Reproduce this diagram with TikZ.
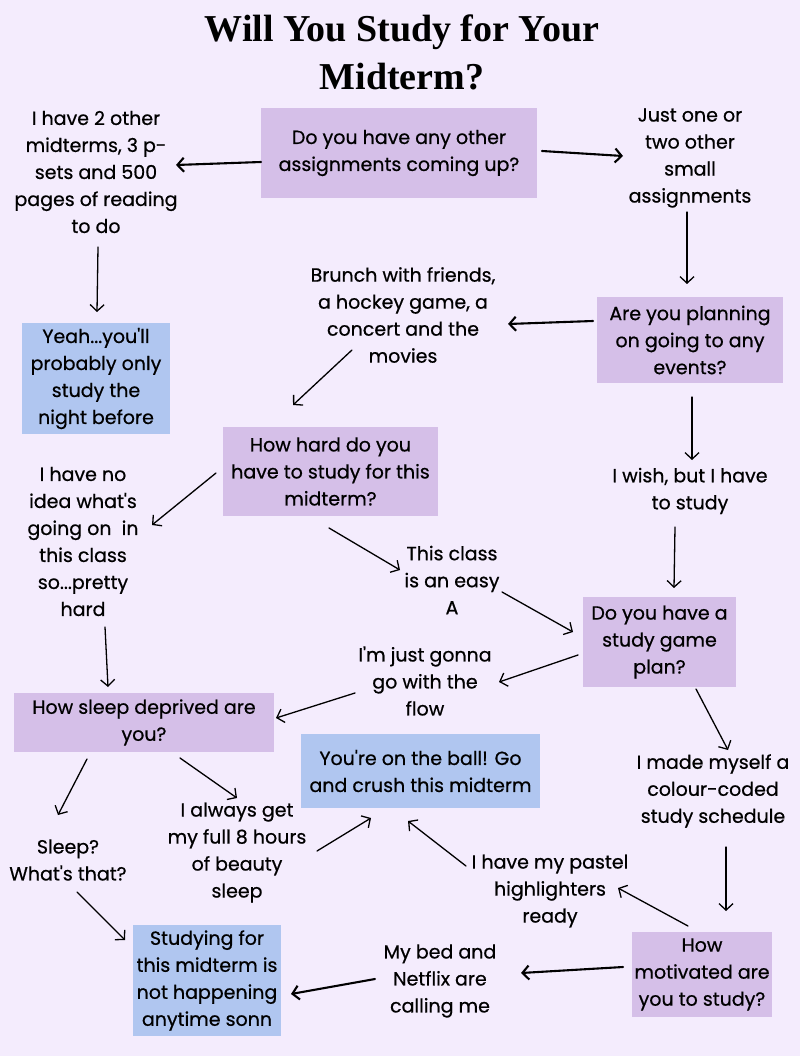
\documentclass[tikz,border=0pt]{standalone}
\usepackage{fontspec}
\setmainfont{Poppins}[Ligatures=TeXOff, FakeBold=0.6]
\newfontfamily\titlefont{Liberation Serif}
\usetikzlibrary{arrows.meta,calc}
\definecolor{bg}{RGB}{244,236,253}
\definecolor{qcol}{RGB}{213,191,232}
\definecolor{acol}{RGB}{176,198,240}
\tikzset{
  txt/.style={align=center, inner sep=0pt, text=black, font=\fontsize{19}{27}\selectfont},
  qbox/.style={txt, fill=qcol},
  abox/.style={txt, fill=acol},
  arr/.style={-{Straight Barb[length=6.5pt,width=14pt]}, line width=1.3pt, line cap=round},
  arrthick/.style={arr, line width=2.1pt},
}
\begin{document}
\begin{tikzpicture}[x=1pt,y=-1pt]
\fill[bg] (0,0) rectangle (800,1056);
\path[use as bounding box] (0,0) rectangle (800,1056);

\node[align=center, inner sep=0pt, font=\titlefont\bfseries\fontsize{38}{48}\selectfont] (title) at (402,52) {Will You Study for Your\\Midterm?};

% question boxes
\node[qbox, minimum width=276pt, minimum height=90pt] (q1) at (399,153) {Do you have any other\\assignments coming up?};
\node[qbox, minimum width=186pt, minimum height=86pt] (q2) at (690,340) {Are you planning\\on going to any\\events?};
\node[qbox, minimum width=215pt, minimum height=89pt] (q3) at (330.5,471.5) {How hard do you\\have to study for this\\midterm?};
\node[qbox, minimum width=153pt, minimum height=90pt] (q4) at (659.5,642) {Do you have a\\study game\\plan?};
\node[qbox, minimum width=260pt, minimum height=59pt] (q5) at (144,722.5) {How sleep deprived are\\you?};
\node[qbox, minimum width=140pt, minimum height=85pt] (q6) at (702,974.5) {How\\motivated are\\you to study?};

% answer boxes
\node[abox, minimum width=148pt, minimum height=111pt] (a1) at (96,378.5) {Yeah...you'll\\probably only\\study the\\night before};
\node[abox, minimum width=239pt, minimum height=74pt] (a2) at (420.5,771) {You're on the ball! Go\\and crush this midterm};
\node[abox, minimum width=148pt, minimum height=111pt] (a3) at (207,980.5) {Studying for\\this midterm is\\not happening\\anytime sonn};

% free texts
\node[txt] (t1) at (96,172) {I have 2 other\\midterms, 3 p-\\sets and 500\\pages of reading\\to do};
\node[txt] (t2) at (690,158) {Just one or\\two other\\small\\assignments};
\node[txt] (t3) at (403,315) {Brunch with friends,\\a hockey game, a\\concert and the\\movies};
\node[txt] (t4) at (83,541.5) {I have no\\idea what's\\going on\ \ in\\this class\\so...pretty\\hard};
\node[txt] (t5) at (690,491) {I wish, but I have\\to study};
\node[txt] (t6) at (452,580) {This class\\is an easy\\A};
\node[txt] (t7) at (425,681) {I'm just gonna\\go with the\\flow};
\node[txt] (t8) at (713,791) {I made myself a\\colour-coded\\study schedule};
\node[txt] (t9) at (68,860) {Sleep?\\What's that?};
\node[txt] (t10) at (237,852.5) {I always get\\my full 8 hours\\of beauty\\sleep};
\node[txt] (t11) at (550,891) {I have my pastel\\highlighters\\ready};
\node[txt] (t12) at (440,981) {My bed and\\Netflix are\\calling me};

% connectors
\draw[arrthick] ($(q1)+(-138,9)$) -- ($(t1)+(80,-7)$);
\draw[arrthick] ($(q1)+(143,-2)$) -- ($(t2)+(-67,-2)$);
\draw[arr] ($(t1)+(2,75)$) -- ($(a1)+(1,-66.5)$);
\draw[arr] ($(t2)+(-3,54)$) -- ($(q2)+(-3,-56)$);
\draw[arrthick] ($(q2)+(-97,-19)$) -- ($(t3)+(105,9)$);
\draw[arr] ($(t3)+(-51,35)$) -- ($(q3)+(-37.5,-66.5)$);
\draw[arr] ($(q3)+(-114.5,1.5)$) -- ($(t4)+(69,-16.5)$);
\draw[arr] ($(t4)+(22,85.5)$) -- ($(q5)+(-36,-35.5)$);
\draw[arr] ($(q2)+(2,57)$) -- ($(t5)+(2,-31)$);
\draw[arr] ($(t5)+(-15,36)$) -- ($(q4)+(14.5,-54)$);
\draw[arr] ($(q3)+(-1.5,56.5)$) -- ($(t6)+(-52,-10)$);
\draw[arr] ($(t6)+(50,12)$) -- ($(q4)+(-86.5,-10)$);
\draw[arr] ($(q4)+(-81.5,13)$) -- ($(t7)+(74,1)$);
\draw[arr] ($(t7)+(-70,12)$) -- ($(q5)+(132,-4.5)$);
\draw[arr] ($(q4)+(36.5,47)$) -- ($(t8)+(15,-41)$);
\draw[arr] ($(t8)+(13,56)$) -- ($(q6)+(24,-63.5)$);
\draw[arr] ($(q5)+(-57,36.5)$) -- ($(t9)+(-10,-45)$);
\draw[arr] ($(q5)+(36,35.5)$) -- ($(t10)+(0,-54.5)$);
\draw[arr] ($(t10)+(80,-1.5)$) -- ($(a2)+(-49.5,47)$);
\draw[arr] ($(t9)+(9,32)$) -- ($(a3)+(-82,-40.5)$);
\draw[arr] ($(q6)+(-14,-48.5)$) -- ($(t11)+(68,-3)$);
\draw[arr] ($(t11)+(-84,-25)$) -- ($(a2)+(-12.5,50)$);
\draw[arrthick] ($(q6)+(-79,-7.5)$) -- ($(t12)+(81,-8)$);
\draw[arrthick] ($(t12)+(-65,-2)$) -- ($(a3)+(84,13.5)$);
\end{tikzpicture}
\end{document}
